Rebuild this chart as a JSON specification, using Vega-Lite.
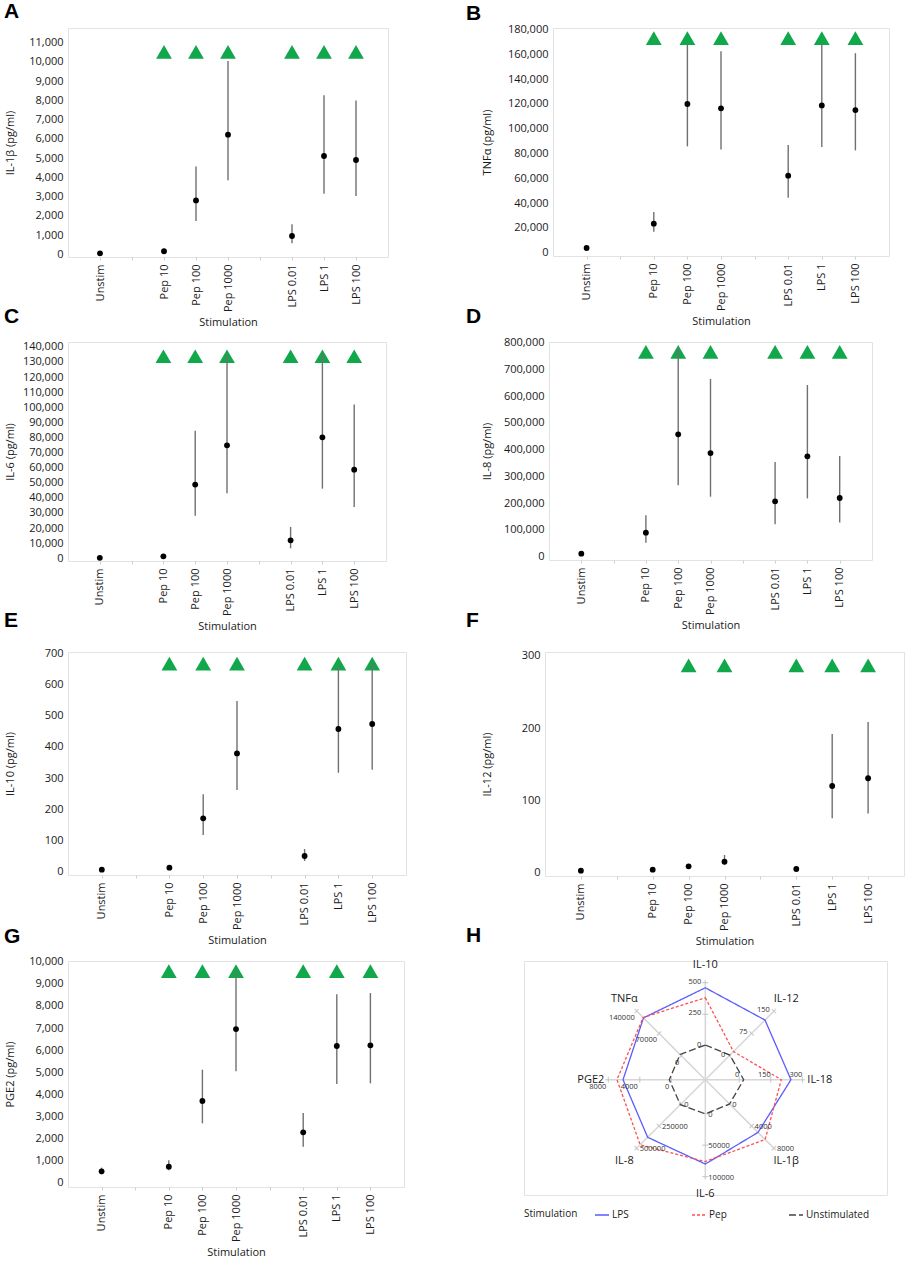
{
"$schema": "https://vega.github.io/schema/vega-lite/v6.json",
"background": "white",
"padding": {"left": 3, "top": 0, "right": 0, "bottom": 0},
"config": {
  "font": "Open Sans",
  "view": {"stroke": "#e2e2e2", "strokeWidth": 1},
  "axis": {"labelFont": "Open Sans", "labelFontSize": 11, "labelColor": "#1a1a1a", "titleFont": "Open Sans", "titleFontSize": 11, "titleFontWeight": "normal", "titleColor": "#1a1a1a", "grid": false, "labelOverlap": false},
  "title": {"font": "Liberation Sans", "fontSize": 21, "fontWeight": "bold", "anchor": "start", "frame": "bounds", "color": "#000"}
},
"datasets": {
  "cyto": [
    {"p":"A","s":"Unstim","m":50,"lo":50,"hi":50,"sig":0},
    {"p":"A","s":"Pep 10","m":160,"lo":120,"hi":210,"sig":1},
    {"p":"A","s":"Pep 100","m":2800,"lo":1730,"hi":4560,"sig":1},
    {"p":"A","s":"Pep 1000","m":6220,"lo":3850,"hi":10050,"sig":1},
    {"p":"A","s":"LPS 0.01","m":950,"lo":570,"hi":1560,"sig":1},
    {"p":"A","s":"LPS 1","m":5110,"lo":3150,"hi":8270,"sig":1},
    {"p":"A","s":"LPS 100","m":4900,"lo":3030,"hi":7990,"sig":1},
    {"p":"B","s":"Unstim","m":3800,"lo":3800,"hi":3800,"sig":0},
    {"p":"B","s":"Pep 10","m":23400,"lo":16900,"hi":32800,"sig":1},
    {"p":"B","s":"Pep 100","m":119900,"lo":85750,"hi":168000,"sig":1},
    {"p":"B","s":"Pep 1000","m":116400,"lo":83300,"hi":162500,"sig":1},
    {"p":"B","s":"LPS 0.01","m":62100,"lo":44350,"hi":86800,"sig":1},
    {"p":"B","s":"LPS 1","m":118800,"lo":85200,"hi":168000,"sig":1},
    {"p":"B","s":"LPS 100","m":115000,"lo":82500,"hi":160900,"sig":1},
    {"p":"C","s":"Unstim","m":300,"lo":300,"hi":300,"sig":0},
    {"p":"C","s":"Pep 10","m":1320,"lo":1320,"hi":1320,"sig":1},
    {"p":"C","s":"Pep 100","m":48800,"lo":28250,"hi":84500,"sig":1},
    {"p":"C","s":"Pep 1000","m":74800,"lo":43000,"hi":135000,"sig":1},
    {"p":"C","s":"LPS 0.01","m":11900,"lo":6600,"hi":20750,"sig":1},
    {"p":"C","s":"LPS 1","m":80100,"lo":46100,"hi":135800,"sig":1},
    {"p":"C","s":"LPS 100","m":58700,"lo":34000,"hi":101800,"sig":1},
    {"p":"D","s":"Unstim","m":11200,"lo":11200,"hi":11200,"sig":0},
    {"p":"D","s":"Pep 10","m":89700,"lo":52300,"hi":154500,"sig":1},
    {"p":"D","s":"Pep 100","m":457300,"lo":266700,"hi":781000,"sig":1},
    {"p":"D","s":"Pep 1000","m":387500,"lo":224300,"hi":664200,"sig":1},
    {"p":"D","s":"LPS 0.01","m":206900,"lo":120900,"hi":353900,"sig":1},
    {"p":"D","s":"LPS 1","m":375100,"lo":218000,"hi":641700,"sig":1},
    {"p":"D","s":"LPS 100","m":219300,"lo":128300,"hi":376300,"sig":1},
    {"p":"E","s":"Unstim","m":6.4,"lo":6.4,"hi":6.4,"sig":0},
    {"p":"E","s":"Pep 10","m":12.8,"lo":12.8,"hi":12.8,"sig":1},
    {"p":"E","s":"Pep 100","m":171,"lo":117.5,"hi":247.9,"sig":1},
    {"p":"E","s":"Pep 1000","m":379,"lo":261.8,"hi":547,"sig":1},
    {"p":"E","s":"LPS 0.01","m":50.2,"lo":34.2,"hi":72.6,"sig":1},
    {"p":"E","s":"LPS 1","m":457.3,"lo":317.3,"hi":660,"sig":1},
    {"p":"E","s":"LPS 100","m":473.3,"lo":327,"hi":673,"sig":1},
    {"p":"F","s":"Unstim","m":2.3,"lo":2.3,"hi":2.3,"sig":0},
    {"p":"F","s":"Pep 10","m":3.7,"lo":3.7,"hi":3.7,"sig":0},
    {"p":"F","s":"Pep 100","m":8.3,"lo":8.3,"hi":8.3,"sig":1},
    {"p":"F","s":"Pep 1000","m":14.8,"lo":10,"hi":24,"sig":1},
    {"p":"F","s":"LPS 0.01","m":4.6,"lo":4.6,"hi":4.6,"sig":1},
    {"p":"F","s":"LPS 1","m":119.7,"lo":74.9,"hi":191.9,"sig":1},
    {"p":"F","s":"LPS 100","m":130.4,"lo":81.4,"hi":208.5,"sig":1},
    {"p":"G","s":"Unstim","m":513,"lo":377,"hi":680,"sig":0},
    {"p":"G","s":"Pep 10","m":724,"lo":558,"hi":1010,"sig":1},
    {"p":"G","s":"Pep 100","m":3695,"lo":2685,"hi":5113,"sig":1},
    {"p":"G","s":"Pep 1000","m":6953,"lo":5038,"hi":9578,"sig":1},
    {"p":"G","s":"LPS 0.01","m":2278,"lo":1629,"hi":3152,"sig":1},
    {"p":"G","s":"LPS 1","m":6184,"lo":4465,"hi":8522,"sig":1},
    {"p":"G","s":"LPS 100","m":6214,"lo":4495,"hi":8582,"sig":1}
  ],
  "spokes": [
    {"c":"IL-10","k":0,"max":500},
    {"c":"IL-12","k":1,"max":150},
    {"c":"IL-18","k":2,"max":300},
    {"c":"IL-1β","k":3,"max":8000},
    {"c":"IL-6","k":4,"max":100000},
    {"c":"IL-8","k":5,"max":500000},
    {"c":"PGE2","k":6,"max":8000},
    {"c":"TNFα","k":7,"max":140000}
  ],
  "ticks": [
    {"c":"IL-10","t":0},{"c":"IL-10","t":250},{"c":"IL-10","t":500},
    {"c":"IL-12","t":0},{"c":"IL-12","t":75},{"c":"IL-12","t":150},
    {"c":"IL-18","t":0},{"c":"IL-18","t":150},{"c":"IL-18","t":300},
    {"c":"IL-1β","t":0},{"c":"IL-1β","t":4000},{"c":"IL-1β","t":8000},
    {"c":"IL-6","t":0},{"c":"IL-6","t":50000},{"c":"IL-6","t":100000},
    {"c":"IL-8","t":0},{"c":"IL-8","t":250000},{"c":"IL-8","t":500000},
    {"c":"PGE2","t":0},{"c":"PGE2","t":4000},{"c":"PGE2","t":8000},
    {"c":"TNFα","t":0},{"c":"TNFα","t":70000},{"c":"TNFα","t":140000}
  ],
  "radar": [
    {"c":"IL-10","g":"LPS","v":460},{"c":"IL-12","g":"LPS","v":120},{"c":"IL-18","g":"LPS","v":246},{"c":"IL-1β","g":"LPS","v":5150},
    {"c":"IL-6","g":"LPS","v":80000},{"c":"IL-8","g":"LPS","v":377000},{"c":"PGE2","g":"LPS","v":6130},{"c":"TNFα","g":"LPS","v":118700},
    {"c":"IL-10","g":"Pep","v":381},{"c":"IL-12","g":"Pep","v":14},{"c":"IL-18","g":"Pep","v":200},{"c":"IL-1β","g":"Pep","v":6425},
    {"c":"IL-6","g":"Pep","v":76000},{"c":"IL-8","g":"Pep","v":461000},{"c":"PGE2","g":"Pep","v":6900},{"c":"TNFα","g":"Pep","v":119900},
    {"c":"IL-10","g":"Unstimulated","v":6},{"c":"IL-12","g":"Unstimulated","v":2},{"c":"IL-18","g":"Unstimulated","v":21},{"c":"IL-1β","g":"Unstimulated","v":50},
    {"c":"IL-6","g":"Unstimulated","v":300},{"c":"IL-8","g":"Unstimulated","v":11000},{"c":"PGE2","g":"Unstimulated","v":260},{"c":"TNFα","g":"Unstimulated","v":3800}
  ]
},
"vconcat": [
 {"hconcat": [
   {
    "title": {"text": "A", "offset": 6},
    "width": 320, "height": 229,
    "data": {"name": "cyto"},
    "transform": [{"filter": "datum.p == 'A'"}],
    "encoding": {"x": {"field": "s", "type": "ordinal", "scale": {"type": "point", "domain": ["Unstim","g1","Pep 10","Pep 100","Pep 1000","g2","LPS 0.01","LPS 1","LPS 100"], "padding": 1}, "axis": {"title": "Stimulation", "labelAngle": 270, "labelExpr": "datum.value == 'g1' || datum.value == 'g2' ? '' : datum.value", "tickSize": 3, "tickColor": "#cfcfcf", "labelPadding": 4, "titlePadding": 5, "domain": false}}},
    "layer": [
     {"transform": [{"filter": "datum.sig == 1"}], "mark": {"type": "point", "shape": "triangle-up", "filled": true, "color": "#10a84a", "size": 250, "opacity": 1}, "encoding": {"y": {"datum": 10520, "type": "quantitative", "scale": {"domain": [-140, 11762], "nice": false, "zero": false}, "axis": {"title": "IL-1β (pg/ml)", "values": [0,1000,2000,3000,4000,5000,6000,7000,8000,9000,10000,11000], "format": ",d", "ticks": false, "domain": false, "labelPadding": 5, "titlePadding": 4, "minExtent": 49}}}},
     {"mark": {"type": "rule", "color": "#707070", "strokeWidth": 1.4}, "encoding": {"y": {"field": "lo", "type": "quantitative", "scale": {"domain": [-140, 11762], "nice": false, "zero": false}, "axis": {"title": "IL-1β (pg/ml)", "values": [0,1000,2000,3000,4000,5000,6000,7000,8000,9000,10000,11000], "format": ",d", "ticks": false, "domain": false, "labelPadding": 5, "titlePadding": 4, "minExtent": 49}}, "y2": {"field": "hi"}}},
     {"mark": {"type": "point", "filled": true, "color": "#000", "size": 34, "opacity": 1}, "encoding": {"y": {"field": "m", "type": "quantitative", "scale": {"domain": [-140, 11762], "nice": false, "zero": false}, "axis": {"title": "IL-1β (pg/ml)", "values": [0,1000,2000,3000,4000,5000,6000,7000,8000,9000,10000,11000], "format": ",d", "ticks": false, "domain": false, "labelPadding": 5, "titlePadding": 4, "minExtent": 49}}}}
    ]
   },
   {
    "title": {"text": "B", "offset": 0, "dx": -15},
    "width": 336, "height": 228,
    "data": {"name": "cyto"},
    "transform": [{"filter": "datum.p == 'B'"}],
    "encoding": {"x": {"field": "s", "type": "ordinal", "scale": {"type": "point", "domain": ["Unstim","g1","Pep 10","Pep 100","Pep 1000","g2","LPS 0.01","LPS 1","LPS 100"], "padding": 1}, "axis": {"title": "Stimulation", "labelAngle": 270, "labelExpr": "datum.value == 'g1' || datum.value == 'g2' ? '' : datum.value", "tickSize": 3, "tickColor": "#cfcfcf", "labelPadding": 4, "titlePadding": 5, "domain": false}}},
    "layer": [
     {"transform": [{"filter": "datum.sig == 1"}], "mark": {"type": "point", "shape": "triangle-up", "filled": true, "color": "#10a84a", "size": 250, "opacity": 1}, "encoding": {"y": {"datum": 173000, "type": "quantitative", "scale": {"domain": [-2660, 181210], "nice": false, "zero": false}, "axis": {"title": "TNFα (pg/ml)", "values": [0,20000,40000,60000,80000,100000,120000,140000,160000,180000], "format": ",d", "ticks": false, "domain": false, "labelPadding": 5, "titlePadding": 4, "minExtent": 57}}}},
     {"mark": {"type": "rule", "color": "#707070", "strokeWidth": 1.4}, "encoding": {"y": {"field": "lo", "type": "quantitative", "scale": {"domain": [-2660, 181210], "nice": false, "zero": false}, "axis": {"title": "TNFα (pg/ml)", "values": [0,20000,40000,60000,80000,100000,120000,140000,160000,180000], "format": ",d", "ticks": false, "domain": false, "labelPadding": 5, "titlePadding": 4, "minExtent": 57}}, "y2": {"field": "hi"}}},
     {"mark": {"type": "point", "filled": true, "color": "#000", "size": 34, "opacity": 1}, "encoding": {"y": {"field": "m", "type": "quantitative", "scale": {"domain": [-2660, 181210], "nice": false, "zero": false}, "axis": {"title": "TNFα (pg/ml)", "values": [0,20000,40000,60000,80000,100000,120000,140000,160000,180000], "format": ",d", "ticks": false, "domain": false, "labelPadding": 5, "titlePadding": 4, "minExtent": 57}}}}
    ]
   }
  ], "spacing": 76},
 {"hconcat": [
   {
    "title": {"text": "C", "offset": 13.5},
    "width": 318, "height": 219,
    "data": {"name": "cyto"},
    "transform": [{"filter": "datum.p == 'C'"}],
    "encoding": {"x": {"field": "s", "type": "ordinal", "scale": {"type": "point", "domain": ["Unstim","g1","Pep 10","Pep 100","Pep 1000","g2","LPS 0.01","LPS 1","LPS 100"], "padding": 1}, "axis": {"title": "Stimulation", "labelAngle": 270, "labelExpr": "datum.value == 'g1' || datum.value == 'g2' ? '' : datum.value", "tickSize": 3, "tickColor": "#cfcfcf", "labelPadding": 4, "titlePadding": 5, "domain": false}}},
    "layer": [
     {"transform": [{"filter": "datum.sig == 1"}], "mark": {"type": "point", "shape": "triangle-up", "filled": true, "color": "#10a84a", "size": 250, "opacity": 1}, "encoding": {"y": {"datum": 133800, "type": "quantitative", "scale": {"domain": [-1790, 143245], "nice": false, "zero": false}, "axis": {"title": "IL-6 (pg/ml)", "values": [0,10000,20000,30000,40000,50000,60000,70000,80000,90000,100000,110000,120000,130000,140000], "format": ",d", "ticks": false, "domain": false, "labelPadding": 5, "titlePadding": 4, "minExtent": 49}}}},
     {"mark": {"type": "rule", "color": "#707070", "strokeWidth": 1.4}, "encoding": {"y": {"field": "lo", "type": "quantitative", "scale": {"domain": [-1790, 143245], "nice": false, "zero": false}, "axis": {"title": "IL-6 (pg/ml)", "values": [0,10000,20000,30000,40000,50000,60000,70000,80000,90000,100000,110000,120000,130000,140000], "format": ",d", "ticks": false, "domain": false, "labelPadding": 5, "titlePadding": 4, "minExtent": 49}}, "y2": {"field": "hi"}}},
     {"mark": {"type": "point", "filled": true, "color": "#000", "size": 34, "opacity": 1}, "encoding": {"y": {"field": "m", "type": "quantitative", "scale": {"domain": [-1790, 143245], "nice": false, "zero": false}, "axis": {"title": "IL-6 (pg/ml)", "values": [0,10000,20000,30000,40000,50000,60000,70000,80000,90000,100000,110000,120000,130000,140000], "format": ",d", "ticks": false, "domain": false, "labelPadding": 5, "titlePadding": 4, "minExtent": 49}}}}
    ]
   },
   {
    "title": {"text": "D", "offset": 9.5, "dx": -15},
    "width": 323, "height": 218,
    "data": {"name": "cyto"},
    "transform": [{"filter": "datum.p == 'D'"}],
    "encoding": {"x": {"field": "s", "type": "ordinal", "scale": {"type": "point", "domain": ["Unstim","g1","Pep 10","Pep 100","Pep 1000","g2","LPS 0.01","LPS 1","LPS 100"], "padding": 1}, "axis": {"title": "Stimulation", "labelAngle": 270, "labelExpr": "datum.value == 'g1' || datum.value == 'g2' ? '' : datum.value", "tickSize": 3, "tickColor": "#cfcfcf", "labelPadding": 4, "titlePadding": 5, "domain": false}}},
    "layer": [
     {"transform": [{"filter": "datum.sig == 1"}], "mark": {"type": "point", "shape": "triangle-up", "filled": true, "color": "#10a84a", "size": 250, "opacity": 1}, "encoding": {"y": {"datum": 765700, "type": "quantitative", "scale": {"domain": [-12340, 802600], "nice": false, "zero": false}, "axis": {"title": "IL-8 (pg/ml)", "values": [0,100000,200000,300000,400000,500000,600000,700000,800000], "format": ",d", "ticks": false, "domain": false, "labelPadding": 5, "titlePadding": 4, "minExtent": 53}}}},
     {"mark": {"type": "rule", "color": "#707070", "strokeWidth": 1.4}, "encoding": {"y": {"field": "lo", "type": "quantitative", "scale": {"domain": [-12340, 802600], "nice": false, "zero": false}, "axis": {"title": "IL-8 (pg/ml)", "values": [0,100000,200000,300000,400000,500000,600000,700000,800000], "format": ",d", "ticks": false, "domain": false, "labelPadding": 5, "titlePadding": 4, "minExtent": 53}}, "y2": {"field": "hi"}}},
     {"mark": {"type": "point", "filled": true, "color": "#000", "size": 34, "opacity": 1}, "encoding": {"y": {"field": "m", "type": "quantitative", "scale": {"domain": [-12340, 802600], "nice": false, "zero": false}, "axis": {"title": "IL-8 (pg/ml)", "values": [0,100000,200000,300000,400000,500000,600000,700000,800000], "format": ",d", "ticks": false, "domain": false, "labelPadding": 5, "titlePadding": 4, "minExtent": 53}}}}
    ]
   }
  ], "spacing": 78},
 {"hconcat": [
   {
    "title": {"text": "E", "offset": 16.5},
    "width": 338, "height": 223,
    "data": {"name": "cyto"},
    "transform": [{"filter": "datum.p == 'E'"}],
    "encoding": {"x": {"field": "s", "type": "ordinal", "scale": {"type": "point", "domain": ["Unstim","g1","Pep 10","Pep 100","Pep 1000","g2","LPS 0.01","LPS 1","LPS 100"], "padding": 1}, "axis": {"title": "Stimulation", "labelAngle": 270, "labelExpr": "datum.value == 'g1' || datum.value == 'g2' ? '' : datum.value", "tickSize": 3, "tickColor": "#cfcfcf", "labelPadding": 4, "titlePadding": 5, "domain": false}}},
    "layer": [
     {"transform": [{"filter": "datum.sig == 1"}], "mark": {"type": "point", "shape": "triangle-up", "filled": true, "color": "#10a84a", "size": 250, "opacity": 1}, "encoding": {"y": {"datum": 666.7, "type": "quantitative", "scale": {"domain": [-10.6, 704.2], "nice": false, "zero": false}, "axis": {"title": "IL-10 (pg/ml)", "values": [0,100,200,300,400,500,600,700], "format": ",d", "ticks": false, "domain": false, "labelPadding": 5, "titlePadding": 4, "minExtent": 49}}}},
     {"mark": {"type": "rule", "color": "#707070", "strokeWidth": 1.4}, "encoding": {"y": {"field": "lo", "type": "quantitative", "scale": {"domain": [-10.6, 704.2], "nice": false, "zero": false}, "axis": {"title": "IL-10 (pg/ml)", "values": [0,100,200,300,400,500,600,700], "format": ",d", "ticks": false, "domain": false, "labelPadding": 5, "titlePadding": 4, "minExtent": 49}}, "y2": {"field": "hi"}}},
     {"mark": {"type": "point", "filled": true, "color": "#000", "size": 34, "opacity": 1}, "encoding": {"y": {"field": "m", "type": "quantitative", "scale": {"domain": [-10.6, 704.2], "nice": false, "zero": false}, "axis": {"title": "IL-10 (pg/ml)", "values": [0,100,200,300,400,500,600,700], "format": ",d", "ticks": false, "domain": false, "labelPadding": 5, "titlePadding": 4, "minExtent": 49}}}}
    ]
   },
   {
    "title": {"text": "F", "offset": 18.5, "dx": -15},
    "width": 359, "height": 224,
    "data": {"name": "cyto"},
    "transform": [{"filter": "datum.p == 'F'"}],
    "encoding": {"x": {"field": "s", "type": "ordinal", "scale": {"type": "point", "domain": ["Unstim","g1","Pep 10","Pep 100","Pep 1000","g2","LPS 0.01","LPS 1","LPS 100"], "padding": 1}, "axis": {"title": "Stimulation", "labelAngle": 270, "labelExpr": "datum.value == 'g1' || datum.value == 'g2' ? '' : datum.value", "tickSize": 3, "tickColor": "#cfcfcf", "labelPadding": 4, "titlePadding": 5, "domain": false}}},
    "layer": [
     {"transform": [{"filter": "datum.sig == 1"}], "mark": {"type": "point", "shape": "triangle-up", "filled": true, "color": "#10a84a", "size": 250, "opacity": 1}, "encoding": {"y": {"datum": 286.9, "type": "quantitative", "scale": {"domain": [-5.1, 305.5], "nice": false, "zero": false}, "axis": {"title": "IL-12 (pg/ml)", "values": [0,100,200,300], "format": ",d", "ticks": false, "domain": false, "labelPadding": 5, "titlePadding": 4, "minExtent": 49}}}},
     {"mark": {"type": "rule", "color": "#707070", "strokeWidth": 1.4}, "encoding": {"y": {"field": "lo", "type": "quantitative", "scale": {"domain": [-5.1, 305.5], "nice": false, "zero": false}, "axis": {"title": "IL-12 (pg/ml)", "values": [0,100,200,300], "format": ",d", "ticks": false, "domain": false, "labelPadding": 5, "titlePadding": 4, "minExtent": 49}}, "y2": {"field": "hi"}}},
     {"mark": {"type": "point", "filled": true, "color": "#000", "size": 34, "opacity": 1}, "encoding": {"y": {"field": "m", "type": "quantitative", "scale": {"domain": [-5.1, 305.5], "nice": false, "zero": false}, "axis": {"title": "IL-12 (pg/ml)", "values": [0,100,200,300], "format": ",d", "ticks": false, "domain": false, "labelPadding": 5, "titlePadding": 4, "minExtent": 49}}}}
    ]
   }
  ], "spacing": 58},
 {"hconcat": [
   {
    "title": {"text": "G", "offset": 9},
    "width": 336, "height": 226,
    "data": {"name": "cyto"},
    "transform": [{"filter": "datum.p == 'G'"}],
    "encoding": {"x": {"field": "s", "type": "ordinal", "scale": {"type": "point", "domain": ["Unstim","g1","Pep 10","Pep 100","Pep 1000","g2","LPS 0.01","LPS 1","LPS 100"], "padding": 1}, "axis": {"title": "Stimulation", "labelAngle": 270, "labelExpr": "datum.value == 'g1' || datum.value == 'g2' ? '' : datum.value", "tickSize": 3, "tickColor": "#cfcfcf", "labelPadding": 4, "titlePadding": 5, "domain": false}}},
    "layer": [
     {"transform": [{"filter": "datum.sig == 1"}], "mark": {"type": "point", "shape": "triangle-up", "filled": true, "color": "#10a84a", "size": 250, "opacity": 1}, "encoding": {"y": {"datum": 9578, "type": "quantitative", "scale": {"domain": [-195, 10032], "nice": false, "zero": false}, "axis": {"title": "PGE2 (pg/ml)", "values": [0,1000,2000,3000,4000,5000,6000,7000,8000,9000,10000], "format": ",d", "ticks": false, "domain": false, "labelPadding": 5, "titlePadding": 4, "minExtent": 49}}}},
     {"mark": {"type": "rule", "color": "#707070", "strokeWidth": 1.4}, "encoding": {"y": {"field": "lo", "type": "quantitative", "scale": {"domain": [-195, 10032], "nice": false, "zero": false}, "axis": {"title": "PGE2 (pg/ml)", "values": [0,1000,2000,3000,4000,5000,6000,7000,8000,9000,10000], "format": ",d", "ticks": false, "domain": false, "labelPadding": 5, "titlePadding": 4, "minExtent": 49}}, "y2": {"field": "hi"}}},
     {"mark": {"type": "point", "filled": true, "color": "#000", "size": 34, "opacity": 1}, "encoding": {"y": {"field": "m", "type": "quantitative", "scale": {"domain": [-195, 10032], "nice": false, "zero": false}, "axis": {"title": "PGE2 (pg/ml)", "values": [0,1000,2000,3000,4000,5000,6000,7000,8000,9000,10000], "format": ",d", "ticks": false, "domain": false, "labelPadding": 5, "titlePadding": 4, "minExtent": 49}}}}
    ]
   },
   {
    "title": {"text": "H", "offset": 13, "dx": -58},
    "width": 363, "height": 234,
    "encoding": {
      "x": {"field": "x", "type": "quantitative", "scale": {"domain": [-1.869, 1.873], "nice": false, "zero": false}, "axis": null},
      "y": {"field": "y", "type": "quantitative", "scale": {"domain": [-1.189, 1.224], "nice": false, "zero": false}, "axis": null}
    },
    "layer": [
     {"data": {"name": "spokes"},
      "transform": [{"calculate": "PI/2 - datum.k*PI/4", "as": "a"}, {"calculate": "0", "as": "x"}, {"calculate": "0", "as": "y"}, {"calculate": "1.03*cos(datum.a)", "as": "xe"}, {"calculate": "1.03*sin(datum.a)", "as": "ye"}],
      "mark": {"type": "rule", "color": "#d6d6d6", "strokeWidth": 1.5},
      "encoding": {"x2": {"field": "xe"}, "y2": {"field": "ye"}}},
     {"data": {"name": "ticks"},
      "transform": [{"lookup": "c", "from": {"data": {"name": "spokes"}, "key": "c", "fields": ["k", "max"]}}, {"calculate": "0.35 + 0.65*datum.t/datum.max", "as": "r"}, {"calculate": "PI/2 - datum.k*PI/4", "as": "a"}, {"calculate": "datum.r*cos(datum.a)", "as": "x"}, {"calculate": "datum.r*sin(datum.a)", "as": "y"}, {"calculate": "45*datum.k", "as": "ang"}],
      "mark": {"type": "point", "shape": "stroke", "size": 36, "color": "#c4c4c4", "strokeWidth": 1, "opacity": 1},
      "encoding": {"angle": {"field": "ang", "type": "quantitative", "scale": null}}},
     {"data": {"name": "radar"},
      "transform": [{"lookup": "c", "from": {"data": {"name": "spokes"}, "key": "c", "fields": ["k", "max"]}}, {"calculate": "0.35 + 0.65*datum.v/datum.max", "as": "r"}, {"calculate": "PI/2 - datum.k*PI/4", "as": "a"}, {"calculate": "datum.r*cos(datum.a)", "as": "x"}, {"calculate": "datum.r*sin(datum.a)", "as": "y"}],
      "mark": {"type": "line", "interpolate": "linear-closed", "strokeWidth": 1.3},
      "encoding": {
        "color": {"field": "g", "type": "nominal", "scale": {"domain": ["LPS", "Pep", "Unstimulated"], "range": ["#5b5bff", "#ff5050", "#444444"]}, "legend": {"title": "Stimulation", "orient": "bottom", "direction": "horizontal", "titleOrient": "left", "symbolType": "stroke", "symbolSize": 196, "symbolStrokeWidth": 1.5, "labelFontSize": 10, "titleFontSize": 10, "titleFontWeight": "normal", "labelFont": "Open Sans", "titleFont": "Open Sans", "columnPadding": 13, "gridAlign": "all", "labelOffset": 2, "titlePadding": 16, "offset": 12, "labelColor": "#1a1a1a", "titleColor": "#1a1a1a"}},
        "strokeDash": {"field": "g", "type": "nominal", "scale": {"domain": ["LPS", "Pep", "Unstimulated"], "range": [[1, 0], [3, 2], [7, 3]]}, "legend": {"title": "Stimulation", "orient": "bottom", "direction": "horizontal", "titleOrient": "left", "symbolType": "stroke", "symbolSize": 196, "symbolStrokeWidth": 1.5, "labelFontSize": 10, "titleFontSize": 10, "titleFontWeight": "normal", "labelFont": "Open Sans", "titleFont": "Open Sans", "columnPadding": 13, "gridAlign": "all", "labelOffset": 2, "titlePadding": 16, "offset": 12, "labelColor": "#1a1a1a", "titleColor": "#1a1a1a"}},
        "order": {"field": "k", "type": "quantitative"}
      }},
     {"data": {"name": "ticks"},
      "transform": [{"filter": "indexof(['IL-1β','IL-6','IL-8'], datum.c) >= 0"}, {"lookup": "c", "from": {"data": {"name": "spokes"}, "key": "c", "fields": ["k", "max"]}}, {"calculate": "0.35 + 0.65*datum.t/datum.max", "as": "r"}, {"calculate": "PI/2 - datum.k*PI/4", "as": "a"}, {"calculate": "datum.r*cos(datum.a)", "as": "x"}, {"calculate": "datum.r*sin(datum.a)", "as": "y"}],
      "mark": {"type": "text", "align": "left", "baseline": "middle", "dx": 3, "dy": 1, "fontSize": 7.5, "color": "#333", "font": "Open Sans"},
      "encoding": {"text": {"field": "t", "type": "quantitative", "format": "d"}}},
     {"data": {"name": "ticks"},
      "transform": [{"filter": "indexof(['IL-10','IL-12'], datum.c) >= 0"}, {"lookup": "c", "from": {"data": {"name": "spokes"}, "key": "c", "fields": ["k", "max"]}}, {"calculate": "0.35 + 0.65*datum.t/datum.max", "as": "r"}, {"calculate": "PI/2 - datum.k*PI/4", "as": "a"}, {"calculate": "datum.r*cos(datum.a)", "as": "x"}, {"calculate": "datum.r*sin(datum.a)", "as": "y"}],
      "mark": {"type": "text", "align": "right", "baseline": "middle", "dx": -4, "dy": -1, "fontSize": 7.5, "color": "#333", "font": "Open Sans"},
      "encoding": {"text": {"field": "t", "type": "quantitative", "format": "d"}}},
     {"data": {"name": "ticks"},
      "transform": [{"filter": "datum.c == 'IL-18'"}, {"lookup": "c", "from": {"data": {"name": "spokes"}, "key": "c", "fields": ["k", "max"]}}, {"calculate": "0.35 + 0.65*datum.t/datum.max", "as": "r"}, {"calculate": "PI/2 - datum.k*PI/4", "as": "a"}, {"calculate": "datum.r*cos(datum.a)", "as": "x"}, {"calculate": "datum.r*sin(datum.a)", "as": "y"}],
      "mark": {"type": "text", "align": "right", "baseline": "middle", "dx": 0, "dy": -5, "fontSize": 7.5, "color": "#333", "font": "Open Sans"},
      "encoding": {"text": {"field": "t", "type": "quantitative", "format": "d"}}},
     {"data": {"name": "ticks"},
      "transform": [{"filter": "indexof(['PGE2','TNFα'], datum.c) >= 0"}, {"lookup": "c", "from": {"data": {"name": "spokes"}, "key": "c", "fields": ["k", "max"]}}, {"calculate": "0.35 + 0.65*datum.t/datum.max", "as": "r"}, {"calculate": "PI/2 - datum.k*PI/4", "as": "a"}, {"calculate": "datum.r*cos(datum.a)", "as": "x"}, {"calculate": "datum.r*sin(datum.a)", "as": "y"}],
      "mark": {"type": "text", "align": "right", "baseline": "middle", "dx": -2, "dy": 7, "fontSize": 7.5, "color": "#333", "font": "Open Sans"},
      "encoding": {"text": {"field": "t", "type": "quantitative", "format": "d"}}},
     {"data": {"name": "spokes"},
      "transform": [{"calculate": "PI/2 - datum.k*PI/4", "as": "a"}, {"calculate": "1.18*cos(datum.a)", "as": "x"}, {"calculate": "1.18*sin(datum.a)", "as": "y"}],
      "mark": {"type": "text", "align": "center", "baseline": "middle", "fontSize": 11, "color": "#1a1a1a", "font": "Open Sans"},
      "encoding": {"text": {"field": "c", "type": "nominal"}}}
    ]
   }
  ], "spacing": 60,
  "resolve": {"scale": {"color": "independent", "strokeDash": "independent"}, "legend": {"color": "independent", "strokeDash": "independent"}}}
],
"spacing": -24,
"resolve": {"scale": {"color": "independent", "strokeDash": "independent"}, "legend": {"color": "independent", "strokeDash": "independent"}}
}
